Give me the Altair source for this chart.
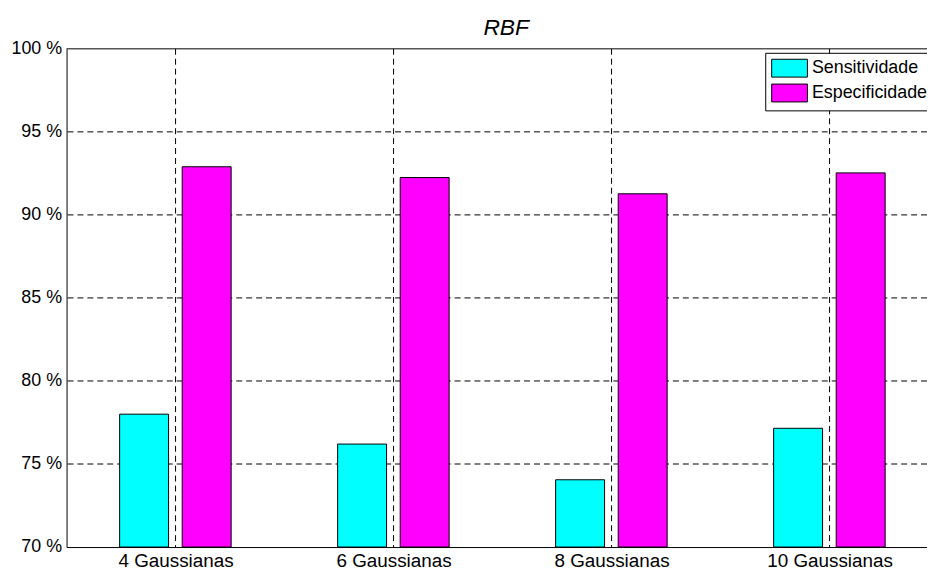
import json
import altair as alt
import pandas as pd

categories = ["4 Gaussianas", "6 Gaussianas", "8 Gaussianas", "10 Gaussianas"]
series = ["Sensitividade", "Especificidade"]
sensitividade = [78.0, 76.2, 74.05, 77.15]
especificidade = [92.9, 92.25, 91.27, 92.53]
colors = ["#00FFFF", "#FF00FF"]
y_ticks = [70, 75, 80, 85, 90, 95, 100]
grid_y = [75, 80, 85, 90, 95]
title_text = "RBF"

FONT = "Liberation Sans"

rows = []
for i, c in enumerate(categories):
    for s, vals in zip(series, [sensitividade, especificidade]):
        rows.append({"pos": i + 1, "cat": c, "series": s, "value": vals[i]})
df = pd.DataFrame(rows)

xscale = alt.Scale(domain=[0.5, 4.447], nice=False, zero=False)
yscale = alt.Scale(domain=[70, 100], nice=False, zero=False)

label_expr = json.dumps(categories) + "[datum.value - 1]"

xaxis = alt.Axis(values=[1, 2, 3, 4], labelExpr=label_expr, ticks=False, grid=False,
                 domainColor="black", domainWidth=1, title=None, labelFont=FONT,
                 labelFontSize=19, labelColor="black", labelPadding=5, labelFlush=False)
yaxis = alt.Axis(values=y_ticks, labelExpr="datum.value + ' %'", ticks=False, grid=False,
                 domainColor="black", domainWidth=1, title=None, labelFont=FONT,
                 labelFontSize=18, labelColor="black", labelPadding=5)

hgrid = alt.Chart(pd.DataFrame({"y": grid_y})).mark_rule(
    color="black", strokeWidth=1, strokeDash=[6, 4]).encode(
    y=alt.Y("y:Q", scale=yscale, axis=yaxis))

vgrid = alt.Chart(pd.DataFrame({"x": [1, 2, 3, 4]})).mark_rule(
    color="black", strokeWidth=1, strokeDash=[6, 4]).encode(
    x=alt.X("x:Q", scale=xscale, axis=xaxis))

top = alt.Chart(pd.DataFrame({"y": [100]})).mark_rule(color="black", strokeWidth=1).encode(
    y=alt.Y("y:Q", scale=yscale, axis=yaxis))

bars = alt.Chart(df).transform_calculate(
    x0="datum.pos + (datum.series == 'Sensitividade' ? -0.2565 : 0.0305)",
    x1="datum.x0 + 0.2245",
).mark_bar(stroke="black", strokeWidth=1, opacity=1).encode(
    x=alt.X("x0:Q", scale=xscale, axis=xaxis),
    x2="x1:Q",
    y=alt.Y("value:Q", scale=yscale, axis=yaxis),
    y2=alt.datum(70),
    color=alt.Color("series:N", scale=alt.Scale(domain=series, range=colors),
                    legend=alt.Legend(orient="none", legendX=704, legendY=4, title=None,
                                      symbolType="M-1,-1H3V1H-1Z", symbolSize=324,
                                      symbolStrokeColor="black", symbolStrokeWidth=1,
                                      symbolOpacity=1, labelFont=FONT, labelFontSize=18,
                                      labelColor="black", fillColor="white",
                                      strokeColor="black", padding=6, labelOffset=22,
                                      rowPadding=2)),
)

title = alt.Chart(pd.DataFrame({"t": [title_text]})).mark_text(
    font=FONT, fontSize=23, fontStyle="italic", color="black",
    align="center", baseline="alphabetic").encode(
    text="t:N", x=alt.value(443), y=alt.value(-14))

chart = alt.layer(hgrid, vgrid, top, bars, title).properties(
    width=867,
    height=502,
    autosize=alt.AutoSizeParams(type="none"),
    padding={"left": 59, "top": 39, "right": 0, "bottom": 22},
).configure_view(stroke=None)

chart.save("out.html", embed_options={"renderer": "svg", "actions": False})
